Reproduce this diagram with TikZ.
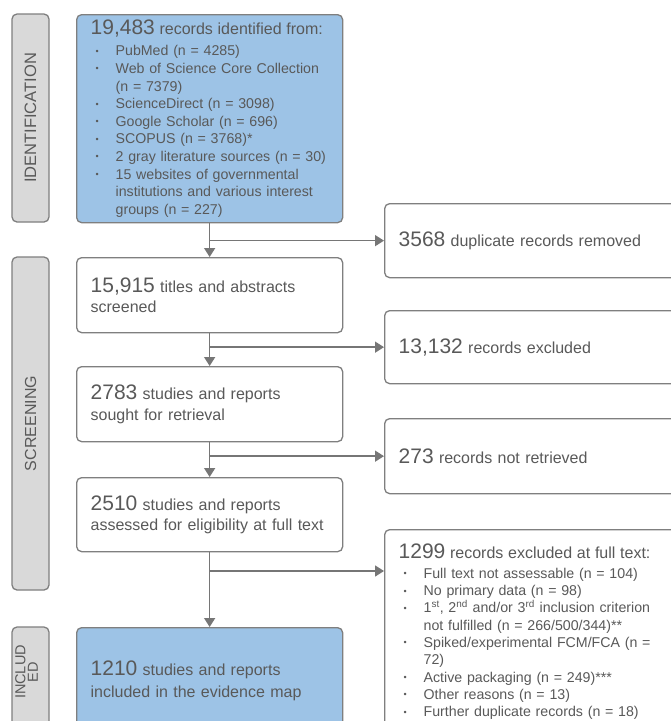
\documentclass[tikz,border=0pt]{standalone}
\usepackage{fontspec}
\setmainfont{Liberation Sans}
\usetikzlibrary{arrows.meta}
\definecolor{txtc}{HTML}{595959}
\definecolor{bordc}{HTML}{7F7F7F}
\definecolor{arrc}{HTML}{767676}
\definecolor{bluec}{HTML}{9DC3E6}
\definecolor{sidec}{HTML}{D9D9D9}
\newcommand\numf[1]{{\fontsize{21}{21}\selectfont #1}}
\newcommand\hdf[1]{{\fontsize{16}{16}\selectfont #1}}
\newcommand\bul{\makebox[25pt][l]{\hspace*{5pt}\raisebox{1.6pt}{\fontsize{9}{9}\selectfont •}}}
\newcommand\itm[1]{\mbox{\bul #1}}
\newcommand\cnt[1]{\mbox{\hspace*{25pt}#1}}
\begin{document}
\begin{tikzpicture}[x=1pt,y=-1pt,
  box/.style={draw=bordc, line width=1.3pt, rounded corners=5pt, text=txtc,
    align=left, anchor=north west, inner xsep=14pt, inner ysep=0pt,
    font=\fontsize{16}{20.5}\selectfont},
  mainbox/.style={box, text width=238pt},
  rightbox/.style={box, text width=272pt, fill=white},
  sidebox/.style={draw=bordc, line width=1.3pt, rounded corners=5pt, fill=sidec,
    text=txtc, rotate=90, anchor=center, inner sep=0pt, minimum height=37pt,
    font=\fontsize{16}{16}\selectfont},
  listfont/.style={font=\fontsize{14.2}{17.3}\selectfont},
  arr/.style={draw=arrc, line width=1.5pt, -{Triangle[length=9pt,width=11pt]}},
  ln/.style={draw=arrc, line width=1.5pt}
]
\useasboundingbox (0,0) rectangle (671,721);
\fill[white] (0,0) rectangle (671,721);
\clip (0,0) rectangle (671,721);

% side labels
\node[sidebox, minimum width=208pt, font=\fontsize{16.5}{16.5}\selectfont] (sid) at (30.5,118) {IDENTIFICATION};
\node[sidebox, minimum width=333pt] (sscr) at (30.5,423.5) {SCREENING};
\node[sidebox, minimum width=106pt] (sinc) at (30.5,680) {};
\node[text=txtc, rotate=90, align=center, inner sep=0pt,
  font=\fontsize{14.5}{12.5}\selectfont] (sinct) at (26.5,672) {INCLUD\\ED};

% main column
\node[mainbox, fill=bluec, font=\fontsize{14.2}{17.6}\selectfont, minimum height=208pt] (id) at (76,14) {%
\mbox{\numf{19,483} \hdf{records identified from:}}\\[3.4pt]
\itm{PubMed (n = 4285)}\\
\itm{Web of Science Core Collection}\\
\cnt{(n = 7379)}\\
\itm{ScienceDirect (n = 3098)}\\
\itm{Google Scholar (n = 696)}\\
\itm{SCOPUS (n = 3768)*}\\
\itm{2 gray literature sources (n = 30)}\\
\itm{15 websites of governmental}\\
\cnt{institutions and various interest}\\
\cnt{groups (n = 227)}};

\node[mainbox, fill=white, minimum height=75pt] (scr) at (76,257)
  {\numf{15,915} titles and abstracts\\screened};
\node[mainbox, fill=white, minimum height=75pt] (ret) at (76,366)
  {\numf{2783} studies and reports\\sought for retrieval};
\node[mainbox, fill=white, minimum height=74pt] (elg) at (76,477)
  {\numf{2510} studies and reports\\assessed for eligibility at full text};
\node[mainbox, fill=bluec, minimum height=106pt,
  font=\fontsize{16}{22}\selectfont] (inc) at (76,627)
  {\numf{1210} studies and reports\\included in the evidence map};

% right column
\node[rightbox, minimum height=74pt] (dup) at (384,203)
  {\numf{3568} duplicate records removed};
\node[rightbox, minimum height=73pt] (exs) at (384,310)
  {\numf{13,132} records excluded};
\node[rightbox, minimum height=75pt] (nrt) at (384,418)
  {\numf{273} records not retrieved};
\node[rightbox, listfont, minimum height=204pt] (exf) at (384,529) {%
\mbox{\numf{1299} \hdf{records excluded at full text:}}\\[2.8pt]
\itm{Full text not assessable (n = 104)}\\
\itm{No primary data (n = 98)}\\
\itm{1\textsuperscript{st}, 2\textsuperscript{nd} and/or 3\textsuperscript{rd} inclusion criterion}\\
\cnt{not fulfilled (n = 266/500/344)**}\\
\itm{Spiked/experimental FCM/FCA (n =}\\
\cnt{72)}\\
\itm{Active packaging (n = 249)***}\\
\itm{Other reasons (n = 13)}\\
\itm{Further duplicate records (n = 18)}};

% connectors
\draw[arr] (id) -- (scr);
\draw[arr] (scr) -- (ret);
\draw[arr] (ret) -- (elg);
\draw[arr] (elg) -- (inc);
\coordinate (b1) at (id.south |- dup.west);
\coordinate (b2) at (scr.south |- exs.west);
\coordinate (b3) at (ret.south |- nrt.west);
\coordinate (b4) at (209,571);
\draw[arr] (b1) -- (dup.west);
\draw[arr] (b2) -- (exs.west);
\draw[arr] (b3) -- (nrt.west);
\draw[arr] (b4) -- (b4 -| exf.west);
\end{tikzpicture}
\end{document}
